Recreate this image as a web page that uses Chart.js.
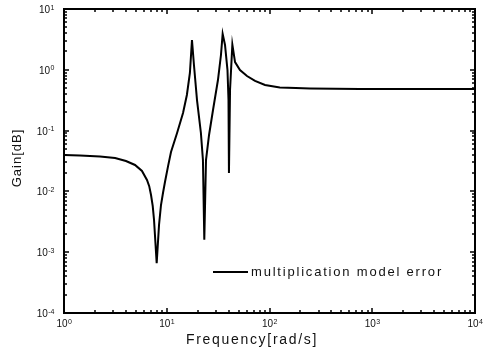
<!DOCTYPE html>
<html lang="en">
<head>
<meta charset="UTF-8" />
<title>Multiplication model error</title>
<script src="https://cdn.jsdelivr.net/npm/chart.js"></script>
<style>
  body { margin: 0; background: #fff; }
  canvas { display: block; }
</style>
</head>
<body>
<canvas id="gainChart" width="483" height="356"></canvas>
<script>
  // values (rad/s, gain)
  const freq = [1, 1.43, 2.24, 3.14, 4.01, 4.91, 5.74, 6.42, 6.75, 7.03, 7.3, 7.52,
    7.98, 8.41, 8.79, 9.2, 9.61, 10.3, 11.0, 12.6, 14.4, 15.7, 16.8, 17.6,
    18.4, 19.7, 21.5, 22.5, 23.2, 24.1, 25.8, 28.2, 31.5, 33.7,
    35.0, 36.9, 39.0, 39.9, 40.3, 41.3, 43.5, 46.2, 51.6, 60.4,
    72.3, 90.4, 126, 180, 248, 760, 2915, 10000];
  const gain = [0.0397, 0.039, 0.0375, 0.0354, 0.0316, 0.0272, 0.0217, 0.0154, 0.0122, 0.00873, 0.0058, 0.00339,
    0.00066, 0.0028, 0.00597, 0.0095, 0.0143, 0.026, 0.0445, 0.0914, 0.195, 0.385, 0.886, 3.09,
    1.2, 0.318, 0.0914, 0.0328, 0.0016, 0.0328, 0.0847, 0.218, 0.679, 1.75,
    3.9, 2.56, 0.99, 0.318, 0.02, 0.465, 2.6, 1.34, 0.99, 0.79,
    0.655, 0.562, 0.512, 0.5, 0.493, 0.483, 0.483, 0.483];

  const xTickExps = [0, 1, 2, 3, 4];
  const yTickExps = [1, 0, -1, -2, -3, -4];
  const seriesLabel = 'multiplication model error';
  const xTitle = 'Frequency[rad/s]';
  const yTitle = 'Gain[dB]';

  const FONT = '"Liberation Sans", Arial, sans-serif';

  function drawPow(ctx, exp, px, py, align) {
    const base = '10', sup = String(exp);
    ctx.font = '10px ' + FONT;
    const wb = ctx.measureText(base).width;
    ctx.font = '7px ' + FONT;
    const we = ctx.measureText(sup).width;
    const start = align === 'center' ? px - (wb + we) / 2 : px - (wb + we);
    ctx.textAlign = 'left';
    ctx.font = '10px ' + FONT;
    ctx.fillText(base, start, py);
    ctx.font = '7px ' + FONT;
    ctx.fillText(sup, start + wb + 0.5, py - 3.5);
  }

  // box, inward ticks, labels and legend in the old plotting style
  const framePlugin = {
    id: 'frame',
    afterDraw(chart) {
      const { ctx, chartArea: a, scales: { x, y } } = chart;
      ctx.save();
      ctx.strokeStyle = '#000';
      ctx.fillStyle = '#000';

      ctx.lineWidth = 1.5;
      for (let e = 0; e < 4; e++) {
        for (let m = 1; m < 10; m++) {
          const px = Math.round(x.getPixelForValue(m * Math.pow(10, e)));
          const len = m === 1 ? 5 : 3;
          ctx.beginPath();
          ctx.moveTo(px, a.bottom); ctx.lineTo(px, a.bottom - len);
          ctx.moveTo(px, a.top); ctx.lineTo(px, a.top + len);
          ctx.stroke();
        }
      }
      for (let e = -4; e < 1; e++) {
        for (let m = 1; m < 10; m++) {
          const py = Math.round(y.getPixelForValue(m * Math.pow(10, e)));
          const len = m === 1 ? 5 : 3;
          ctx.beginPath();
          ctx.moveTo(a.left, py); ctx.lineTo(a.left + len, py);
          ctx.moveTo(a.right, py); ctx.lineTo(a.right - len, py);
          ctx.stroke();
        }
      }

      ctx.lineWidth = 2;
      ctx.strokeRect(a.left, a.top, a.right - a.left, a.bottom - a.top);

      ctx.fillStyle = '#111';
      ctx.textBaseline = 'alphabetic';
      xTickExps.forEach(e => {
        drawPow(ctx, e, x.getPixelForValue(Math.pow(10, e)), a.bottom + 14, 'center');
      });
      yTickExps.forEach(e => {
        drawPow(ctx, e, a.left - 10, y.getPixelForValue(Math.pow(10, e)) + 4, 'right');
      });

      // axis titles
      ctx.font = '14px ' + FONT;
      ctx.letterSpacing = '1.7px';
      ctx.textAlign = 'center';
      ctx.textBaseline = 'middle';
      ctx.fillText(xTitle, 252, 340);

      ctx.save();
      ctx.font = '13px ' + FONT;
      ctx.letterSpacing = '1px';
      ctx.translate(17, 158);
      ctx.rotate(-Math.PI / 2);
      ctx.fillText(yTitle, 0, 0);
      ctx.restore();

      // legend
      ctx.lineWidth = 2;
      ctx.beginPath();
      ctx.moveTo(213, 272); ctx.lineTo(248, 272);
      ctx.stroke();
      ctx.font = '13px ' + FONT;
      ctx.letterSpacing = '1.8px';
      ctx.textAlign = 'left';
      ctx.fillText(seriesLabel, 251, 272);

      ctx.restore();
    }
  };

  new Chart(document.getElementById('gainChart'), {
    type: 'line',
    data: {
      datasets: [{
        label: seriesLabel,
        data: freq.map((f, i) => ({ x: f, y: gain[i] })),
        borderColor: '#000',
        borderWidth: 2,
        pointRadius: 0,
        tension: 0,
        fill: false
      }]
    },
    options: {
      responsive: false,
      animation: false,
      layout: { padding: { left: 64, top: 9, right: 8, bottom: 43 } },
      scales: {
        x: { type: 'logarithmic', min: 1, max: 10000, display: false },
        y: { type: 'logarithmic', min: 0.0001, max: 10, display: false }
      },
      plugins: {
        legend: { display: false },
        tooltip: { enabled: false }
      }
    },
    plugins: [framePlugin]
  });
</script>
</body>
</html>
